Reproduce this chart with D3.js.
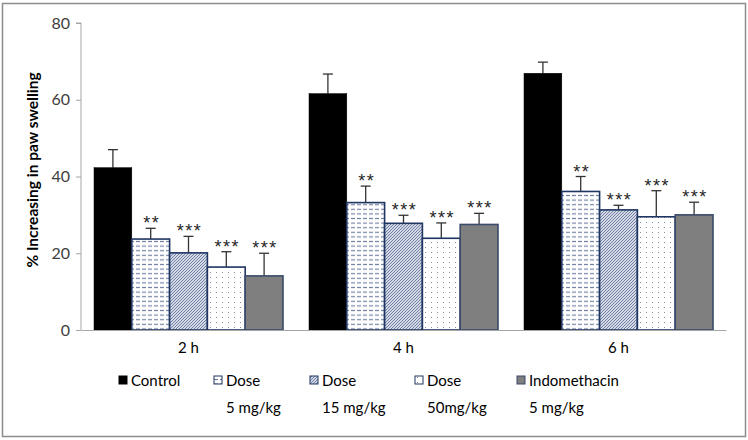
<!DOCTYPE html>
<html><head><meta charset="utf-8">
<script src="https://cdnjs.cloudflare.com/ajax/libs/d3/7.8.5/d3.min.js"></script>
<style>
html,body{margin:0;padding:0;background:#fff;}
svg{display:block;font-family:Lato,"Open Sans",sans-serif;}
</style></head>
<body>
<script>
const categories = ["2 h", "4 h", "6 h"];
const seriesNames = ["Control", "Dose 5 mg/kg", "Dose 15 mg/kg", "Dose 50mg/kg", "Indomethacin 5 mg/kg"];
const legendLine1 = ["Control", "Dose", "Dose", "Dose", "Indomethacin"];
const legendLine2 = ["", "5 mg/kg", "15 mg/kg", "50mg/kg", "5 mg/kg"];
// means per series, one value per category
const control      = [42.3, 61.6, 66.9];
const dose5        = [23.7, 33.2, 36.1];
const dose15       = [20.1, 27.8, 31.3];
const dose50       = [16.4, 23.9, 29.5];
const indomethacin = [14.1, 27.5, 30.0];
// error (upper) per series
const controlErr      = [4.7, 5.1, 2.9];
const dose5Err        = [2.8, 4.3, 3.9];
const dose15Err       = [4.3, 2.1, 1.2];
const dose50Err       = [4.0, 4.0, 6.8];
const indomethacinErr = [5.9, 2.9, 3.3];
// significance marks
const control_sig      = ["", "", ""];
const dose5_sig        = ["**", "**", "**"];
const dose15_sig       = ["***", "***", "***"];
const dose50_sig       = ["***", "***", "***"];
const indomethacin_sig = ["***", "***", "***"];
const yTicks = [0, 20, 40, 60, 80];

const values = [control, dose5, dose15, dose50, indomethacin];
const errs = [controlErr, dose5Err, dose15Err, dose50Err, indomethacinErr];
const sigs = [control_sig, dose5_sig, dose15_sig, dose50_sig, indomethacin_sig];

const W = 748, H = 440;
const svg = d3.select("body").append("svg").attr("width", W).attr("height", H);

// patterns
const defs = svg.append("defs");
const pDash = defs.append("pattern").attr("id", "pDash").attr("patternUnits", "userSpaceOnUse")
  .attr("width", 6).attr("height", 4.6);
pDash.append("rect").attr("width", 6).attr("height", 4.6).attr("fill", "#fff");
pDash.append("line").attr("x1", 0).attr("x2", 4).attr("y1", 2.3).attr("y2", 2.3)
  .attr("stroke", "#7484a6").attr("stroke-width", 1.2);
const pDiag = defs.append("pattern").attr("id", "pDiag").attr("patternUnits", "userSpaceOnUse")
  .attr("width", 3).attr("height", 3);
pDiag.append("rect").attr("width", 3).attr("height", 3).attr("fill", "#fff");
pDiag.append("path").attr("d", "M-1,1L1,-1M0,3L3,0M2,4L4,2")
  .attr("stroke", "#6a7aa2").attr("stroke-width", 1.1);
const pDot = defs.append("pattern").attr("id", "pDot").attr("patternUnits", "userSpaceOnUse")
  .attr("width", 6).attr("height", 5);
pDot.append("rect").attr("width", 6).attr("height", 5).attr("fill", "#fff");
pDot.append("rect").attr("x", 2).attr("y", 2).attr("width", 1).attr("height", 1).attr("fill", "#8a8a9a");

const fills = ["#000000", "url(#pDash)", "url(#pDiag)", "url(#pDot)", "#7f7f7f"];
const strokes = ["#000000", "#1f3562", "#1f3562", "#1f3562", "#3a4a6a"];

// outer frame
svg.append("rect").attr("x", 2.5).attr("y", 3.5).attr("width", W - 5).attr("height", H - 7)
  .attr("fill", "none").attr("stroke", "#8c8c8c").attr("stroke-width", 1.5);

const x0 = d3.scaleBand().domain(categories).range([81, 726])
  .paddingInner(26 / 215).paddingOuter(13 / 215);
const x1 = d3.scaleBand().domain(d3.range(seriesNames.length)).range([0, x0.bandwidth()]);
const y = d3.scaleLinear().domain([0, 80]).range([330, 23]);

// y axis
const yAxis = svg.append("g").attr("transform", "translate(81,0)")
  .call(d3.axisLeft(y).tickValues(yTicks).tickSize(5).tickPadding(6));
yAxis.select(".domain").attr("stroke", "#a6a6a6").attr("d", `M-5,${y(80)}H0V${y(0)}`);
yAxis.selectAll(".tick line").attr("stroke", "#a6a6a6");
yAxis.selectAll(".tick text").attr("font-size", 16).attr("fill", "#404040")
  .attr("font-family", "Lato, sans-serif");

// y title
svg.append("text").attr("transform", `translate(38,${(63 + 277) / 2}) rotate(-90)`)
  .attr("text-anchor", "middle").attr("font-size", 15.5).attr("font-weight", "bold")
  .attr("fill", "#000").text("% Increasing in paw swelling");

// bars
const groups = svg.append("g").selectAll("g").data(categories).join("g")
  .attr("transform", d => `translate(${x0(d)},0)`);
const items = groups.selectAll("g.item").data((c, ci) => values.map((s, si) => ({
  si, v: s[ci], e: errs[si][ci], sig: sigs[si][ci]
}))).join("g").attr("class", "item");

items.append("line").attr("x1", d => x1(d.si) + x1.bandwidth() / 2).attr("x2", d => x1(d.si) + x1.bandwidth() / 2)
  .attr("y1", d => y(d.v)).attr("y2", d => y(d.v + d.e)).attr("stroke", "#333").attr("stroke-width", 1.3);
items.append("line").attr("x1", d => x1(d.si) + x1.bandwidth() / 2 - 5).attr("x2", d => x1(d.si) + x1.bandwidth() / 2 + 5)
  .attr("y1", d => y(d.v + d.e)).attr("y2", d => y(d.v + d.e)).attr("stroke", "#333").attr("stroke-width", 1.3);

items.append("rect").attr("x", d => x1(d.si)).attr("width", x1.bandwidth())
  .attr("y", d => y(d.v)).attr("height", d => y(0) - y(d.v))
  .attr("fill", d => fills[d.si]).attr("stroke", d => strokes[d.si])
  .attr("stroke-width", d => d.si === 0 ? 0.5 : 1.6);

items.append("text").attr("x", d => x1(d.si) + x1.bandwidth() / 2 + 1)
  .attr("y", d => y(d.v + d.e) + 1).attr("text-anchor", "middle")
  .attr("font-family", "'Liberation Sans', Arial, sans-serif")
  .attr("font-size", 18).attr("fill", "#262626").attr("letter-spacing", 1.5)
  .text(d => d.sig);

// x axis
const xAxis = svg.append("g").attr("transform", `translate(0,${y(0)})`)
  .call(d3.axisBottom(x0).tickSize(0).tickPadding(12));
xAxis.select(".domain").attr("stroke", "#a6a6a6").attr("stroke-width", 1.2);
xAxis.selectAll(".tick text").attr("font-size", 15).attr("fill", "#000")
  .attr("font-family", "Lato, sans-serif");

// legend
const legendX = [119, 214, 310, 415, 517];
const lg = svg.append("g").selectAll("g").data(seriesNames).join("g")
  .attr("transform", (d, i) => `translate(${legendX[i]},0)`);
lg.append("rect").attr("x", 0).attr("y", 376).attr("width", 8).attr("height", 8)
  .attr("fill", (d, i) => fills[i]).attr("stroke", (d, i) => strokes[i]).attr("stroke-width", 1);
lg.append("text").attr("x", 12).attr("y", 386).attr("font-size", 15).attr("fill", "#000")
  .text((d, i) => legendLine1[i]);
lg.append("text").attr("x", 12).attr("y", 413).attr("font-size", 15).attr("fill", "#000")
  .text((d, i) => legendLine2[i]);
</script>
</body></html>
